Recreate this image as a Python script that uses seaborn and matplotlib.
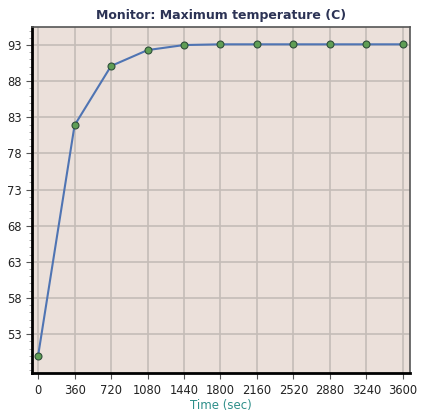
import matplotlib
matplotlib.use("Agg")
import matplotlib.pyplot as plt
from matplotlib.ticker import MultipleLocator
import seaborn as sns
import pandas as pd

# ── Data ─────────────────────────────────────────────────────────────────────
TIME_SEC = [0, 360, 720, 1080, 1440, 1800, 2160, 2520, 2880, 3240, 3600]
MAX_TEMP = [50.0, 81.9, 90.1, 92.3, 93.0, 93.1, 93.1, 93.1, 93.1, 93.1, 93.1]
Y_TICKS  = [53, 58, 63, 68, 73, 78, 83, 88, 93]

df = pd.DataFrame({"time": TIME_SEC, "temp": MAX_TEMP})

sns.set_style("white")
plt.rcParams["font.family"] = ["DejaVu Sans"]

fig = plt.figure(figsize=(4.27, 4.15), dpi=100)
ax = fig.add_axes([0.075, 0.101, 0.885, 0.834])
ax.set_facecolor("#ebe0da")

sns.lineplot(
    data=df, x="time", y="temp", ax=ax,
    color="#4f74b3", linewidth=1.5,
    marker="o", markersize=5,
    markerfacecolor="#5f9e55", markeredgecolor="#2f4f3a", markeredgewidth=0.8,
    zorder=3,
)

ax.set_xlim(-60, 3670)
ax.set_ylim(47.6, 95.5)
ax.set_xticks(TIME_SEC)
ax.set_yticks(Y_TICKS)
ax.yaxis.set_minor_locator(MultipleLocator(1))
ax.grid(True, which="major", color="#c4bcb8", linewidth=1.2, zorder=0)

ax.tick_params(axis="both", which="major", labelsize=8.3, length=4, width=0.8,
               color="#555555", labelcolor="#222222", direction="out")
ax.tick_params(axis="y", which="minor", length=2, width=0.5, color="#888888",
               left=True)
ax.tick_params(axis="x", bottom=True)
ax.tick_params(axis="y", left=True)

for side in ("left", "bottom"):
    ax.spines[side].set_color("black")
    ax.spines[side].set_linewidth(2.0)
for side in ("top", "right"):
    ax.spines[side].set_color("#555555")
    ax.spines[side].set_linewidth(1.2)

ax.set_title("Monitor: Maximum temperature (C)", fontsize=9,
             fontweight="bold", color="#2c3355", pad=6)
ax.set_xlabel("Time (sec)", fontsize=8.5, color="#2e8f8a", labelpad=2)
ax.set_ylabel("")

fig.savefig("out.png", dpi=100)
